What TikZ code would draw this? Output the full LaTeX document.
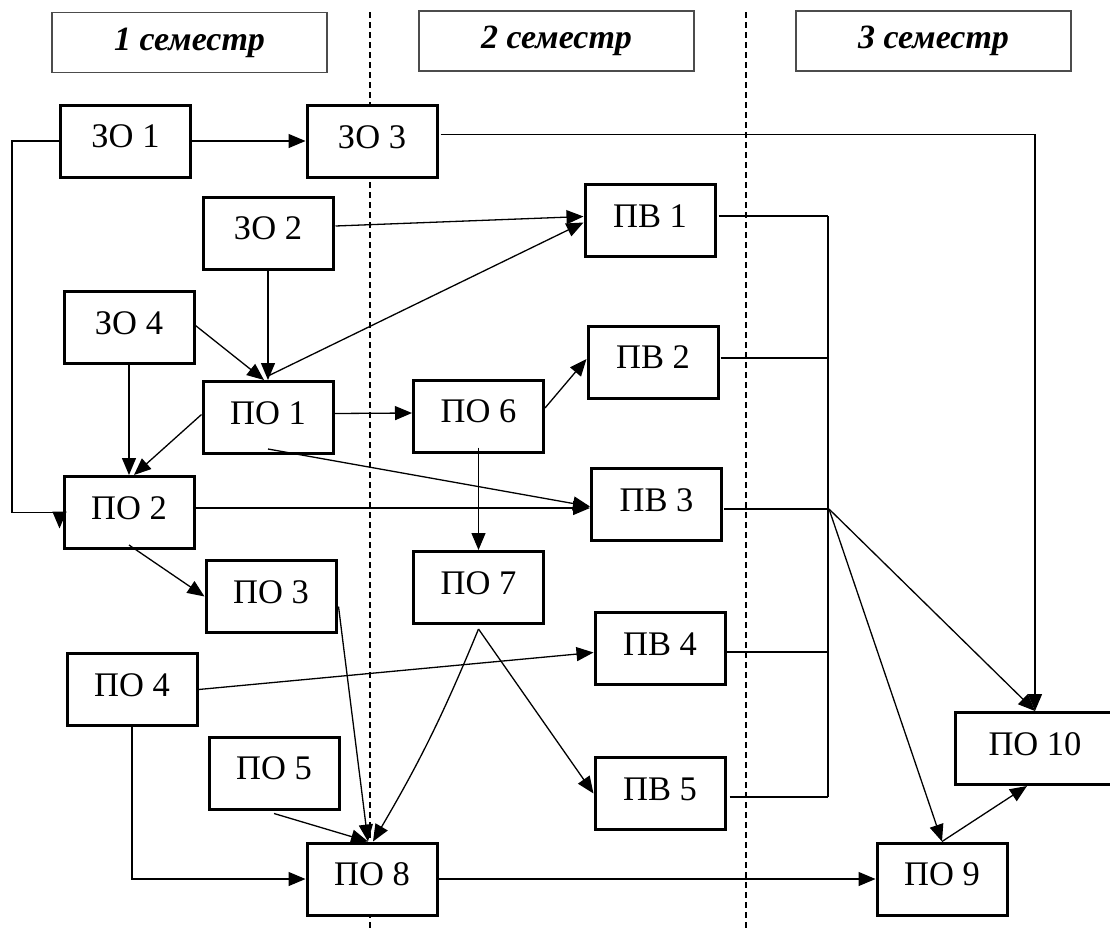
\documentclass[tikz,border=0pt]{standalone}
\usepackage{fontspec}
\setmainfont{Liberation Serif}
\usetikzlibrary{arrows.meta,calc}
\begin{document}
\begin{tikzpicture}[x=1pt,y=-1pt,
 box/.style={draw,line width=3pt,fill=white,minimum width=130pt,minimum height=72pt,inner sep=0pt,text height=23pt,text depth=10pt,font=\fontsize{34.5}{40}\selectfont},
 hdr/.style={draw=black!70,line width=1.5pt,fill=white,minimum width=275pt,minimum height=60pt,inner sep=0pt,font=\fontsize{34}{40}\selectfont\bfseries\itshape},
 conn/.style={line width=1.3pt},
 arr/.style={conn,-{Triangle[length=17pt,width=14pt]}},
 sep/.style={line width=1.5pt,dash pattern=on 6pt off 4pt}]
\useasboundingbox (0,0) rectangle (1110,929);
% semester separators
\coordinate (s1t) at (370,12);
\coordinate (s1b) at (370,929);
\coordinate (s2t) at (746,12);
\coordinate (s2b) at (746,929);
\draw[sep] (s1t) -- (s1b);
\draw[sep] (s2t) -- (s2b);
% headers
\node[hdr] (h1) at (189.5,42.5) {1 семестр};
\node[hdr] (h2) at (556.5,41) {2 семестр};
\node[hdr] (h3) at (933.5,41) {3 семестр};
% boxes
\node[box] (zo1) at (125.5,141) {ЗО 1};
\node[box] (zo3) at (372,141.5) {ЗО 3};
\node[box] (zo2) at (268,233) {ЗО 2};
\node[box] (zo4) at (129,327.5) {ЗО 4};
\node[box] (po1) at (268,417.5) {ПО 1};
\node[box] (po6) at (478.5,416) {ПО 6};
\node[box] (pb1) at (650,220.5) {ПВ 1};
\node[box] (pb2) at (653,362) {ПВ 2};
\node[box] (pb3) at (656.5,504.5) {ПВ 3};
\node[box] (po2) at (129,512.5) {ПО 2};
\node[box] (po3) at (271,596.5) {ПО 3};
\node[box] (po7) at (478.5,587.5) {ПО 7};
\node[box] (pb4) at (660,648.5) {ПВ 4};
\node[box] (po4) at (132,689.5) {ПО 4};
\node[box] (po5) at (274,773) {ПО 5};
\node[box] (pb5) at (660,793.5) {ПВ 5};
\node[box] (po8) at (372,879) {ПО 8};
\node[box] (po9) at (942,879) {ПО 9};
\node[box,minimum width=160pt] (po10) at (1035,748.5) {ПО 10};
% connectors
\draw[arr] (zo1.east) -- (zo1.east -| zo3.west);
\draw[arr] (zo1.west) -- ++(-47,0) |- ($(po2.west)+(-3,0)$) -- ++(0,16);
\draw[arr] ($(zo2.east)+(1,-7)$) -- ($(pb1.west)+(0,-4)$);
\draw[arr] ($(po1.north)+(0,-4)$) -- ($(pb1.west)+(0,2)$);
\draw[arr] (zo2.south) -- (po1.north);
\draw[arr] ($(zo4.east)+(0,-2)$) -- ($(po1.north)+(-4,0)$);
\draw[arr] (zo4.south) -- (po2.north);
\draw[arr] ($(po1.west)+(0,-3)$) -- ($(po2.north)+(5,0)$);
\draw[arr] ($(po1.east)+(0,-4)$) -- ($(po6.west)+(0,-3)$);
\draw[arr] ($(po1.south)+(0,-6)$) -- ($(pb3.west)+(0,2)$);
\draw[arr] ($(po2.east)+(0,-4.5)$) -- ($(pb3.west)+(0,3.5)$);
\draw[arr] ($(po6.east)+(0,-8)$) -- ($(pb2.west)+(0,-3)$);
\draw[arr] ($(po6.south)+(0,-6)$) -- (po7.north);
\draw[arr] ($(po2.south)+(0,-5)$) -- (po3.west);
\draw[arr] ($(po3.east)+(1,10)$) -- ($(po8.north)+(-4,0)$);
\draw[arr] ($(po7.south)+(0,4)$) to[bend left=4] ($(po8.north)+(1,0)$);
\draw[arr] ($(po7.south)+(0,4)$) -- (pb5.west);
\draw[arr] ($(po5.south)+(0,3)$) -- ($(po8.north)+(-4,0)$);
\draw[arr] (po4.east) -- ($(pb4.west)+(0,4)$);
\draw[arr] (po4.south) |- (po8.west);
\draw[arr] (po8.east) -- (po9.west);
% bus of elective courses
\coordinate (bt) at (828,216);
\coordinate (bb) at (828,797);
\coordinate (j) at (829,509);
\draw[conn] ($(pb1.east)+(2,-4.5)$) -- (bt);
\draw[conn] (bt) -- (bb);
\draw[conn] ($(pb2.east)+(1,-4)$) -- ($(pb2.east -| j)+(0,-4)$);
\draw[conn] ($(pb3.east)+(1,4.5)$) -- (j);
\draw[conn] ($(pb4.east)+(0,3.5)$) -- ($(pb4.east -| bt)+(0,3.5)$);
\draw[conn] ($(pb5.east)+(3,3.5)$) -- (bb);
\draw[arr] (j) -- (po10.north);
\draw[arr] (j) -- (po9.north);
\draw[arr] ($(zo3.east)+(2,-7)$) -| (po10.north);
\draw[arr] (po9.north) -- ($(po10.south)+(-8,0)$);
\end{tikzpicture}
\end{document}
